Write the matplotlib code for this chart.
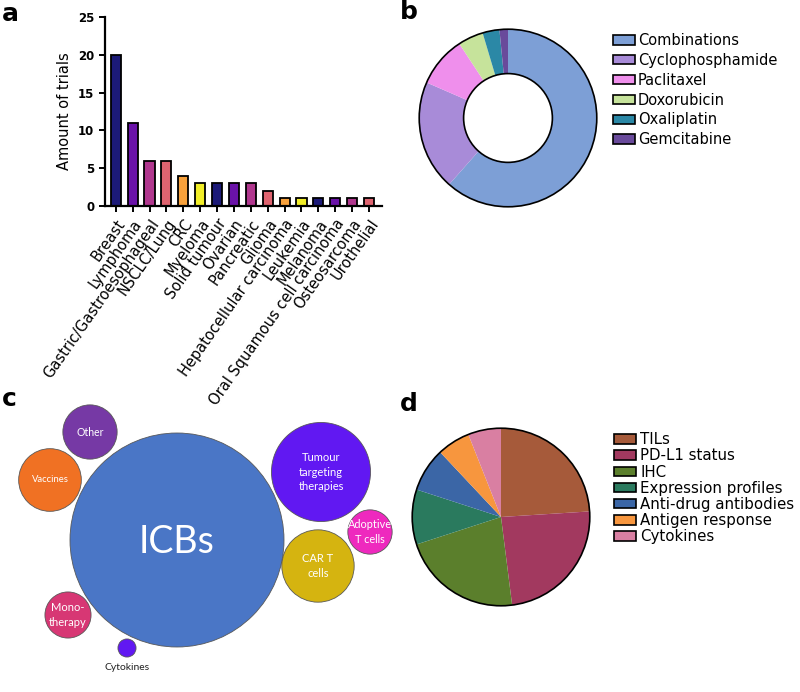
import numpy as np
import matplotlib
matplotlib.use('Agg')
from matplotlib import pyplot as plt
from matplotlib.patches import Circle, Patch

# panel a: trials per cancer type
cancers = ['Breast', 'Lymphoma', 'Gastric/Gastroesophageal', 'NSCLC/Lung', 'CRC', 'Myeloma',
           'Solid tumour', 'Ovarian', 'Pancreatic', 'Glioma', 'Hepatocellular carcinoma', 'Leukemia',
           'Melanoma', 'Oral Squamous cell carcinoma', 'Osteosarcoma', 'Urothelial']
trials = [20, 11, 6, 6, 4, 3, 3, 3, 3, 2, 1, 1, 1, 1, 1, 1]
bar_cycle = ['#1c1a78', '#6a12a8', '#b0378e', '#df6470', '#f7a13c', '#f2ee28']

# panel b: chemotherapy partners
chemo = ['Combinations', 'Cyclophosphamide', 'Paclitaxel', 'Doxorubicin', 'Oxaliplatin', 'Gemcitabine']
chemo_counts = [40, 13, 6, 3, 2, 1]
chemo_colors = ['#7d9fd6', '#a88bd8', '#ef8fec', '#c6e39b', '#2b88a6', '#694a9b']

# panel c: therapy classes (bubble areas)
therapies = ['ICBs', 'Tumour\ntargeting\ntherapies', 'CAR T\ncells', 'Vaccines', 'Other',
             'Mono-\ntherapy', 'Adoptive\nT cells', 'Cytokines']
therapy_counts = [140, 30, 16, 12, 9, 6.5, 6, 1]
therapy_colors = ['#4472c4', '#5c10f2', '#d4b208', '#f06c1c', '#7232a2', '#d6306f', '#ee22bc', '#5c10f2']
# bubble centres in pixel space of the panel (layout only)
bubble_xy = [(177, 540), (321, 472), (318, 566), (50, 480), (90, 432), (68, 615), (370, 532), (127, 648)]
label_size = [27, 8, 8, 6.8, 7.6, 8, 7.8, 7.5]

# panel d: biomarkers
markers = ['TILs', 'PD-L1 status', 'IHC', 'Expression profiles', 'Anti-drug antibodies',
           'Antigen response', 'Cytokines']
marker_share = [24, 24, 22, 10, 8, 6, 6]
marker_colors = ['#a65a3a', '#a2395f', '#5b7f2c', '#2a7a5e', '#3b66a6', '#f7963e', '#d97fa2']

fig = plt.figure(figsize=(8, 6.92), dpi=100)

# ---- a ----
ax = fig.add_axes([0.131, 0.7023, 0.3465, 0.2731])
x = np.arange(len(cancers))
cols = [bar_cycle[i % len(bar_cycle)] for i in range(len(cancers))]
ax.bar(x, trials, width=0.6, color=cols, edgecolor='black', linewidth=1.3)
ax.set_xlim(-0.65, 15.77)
ax.set_ylim(0, 25)
ax.set_yticks([0, 5, 10, 15, 20, 25])
ax.set_xticks(x)
ax.set_xticklabels(cancers, rotation=55, ha='right', rotation_mode='anchor', fontsize=10.5)
for lab in ax.get_yticklabels():
    lab.set_fontweight('bold')
    lab.set_fontsize(8.5)
ax.set_ylabel('Amount of trials', fontsize=10.5)
for s in ['top', 'right']:
    ax.spines[s].set_visible(False)
for s in ['left', 'bottom']:
    ax.spines[s].set_linewidth(1.6)
ax.tick_params(width=1.4, length=4)

# ---- b ----
axb = fig.add_axes([0.51625, 0.6922, 0.2375, 0.2746])
axb.pie(chemo_counts, colors=chemo_colors, startangle=90, counterclock=False,
        radius=1, wedgeprops=dict(width=0.5, edgecolor='none'))
axb.add_patch(Circle((0, 0), 1, fill=False, lw=1.2, ec='black'))
axb.add_patch(Circle((0, 0), 0.5, fill=False, lw=1.2, ec='black'))
axb.set_xlim(-1.07, 1.07)
axb.set_ylim(-1.07, 1.07)
axb.set_aspect('equal')
axb.axis('off')
fig.legend(handles=[Patch(fc=c, ec='black', lw=1.2) for c in chemo_colors], labels=chemo,
           loc='upper left', bbox_to_anchor=(0.75, 0.971), frameon=False, fontsize=10.5,
           handlelength=1.5, handleheight=0.6, labelspacing=0.33, handletextpad=0.2)

# ---- c ----
axc = fig.add_axes([0, 0, 0.5, 300 / 692])
axc.set_xlim(0, 400)
axc.set_ylim(692, 392)
axc.axis('off')
k = 107 / np.sqrt(therapy_counts[0])
for name, n, c, (cx, cy), fs in zip(therapies, therapy_counts, therapy_colors, bubble_xy, label_size):
    r = k * np.sqrt(n)
    axc.add_patch(Circle((cx, cy), r, fc=c, ec='#555555', lw=0.6, alpha=0.97))
    if name == 'ICBs':
        axc.text(cx, cy + 2, name, color='white', fontsize=fs, ha='center', va='center', family='Lato')
    elif name == 'Cytokines':
        axc.text(cx, cy + 19, name, color='#222222', fontsize=fs, ha='center', va='center', family='Lato')
    else:
        axc.text(cx, cy, name, color='white', fontsize=fs, ha='center', va='center',
                 family='Lato', linespacing=1.4)

# ---- d ----
axd = fig.add_axes([0.5075, 0.1156, 0.2375, 0.2746])
axd.pie(marker_share, colors=marker_colors, startangle=90, counterclock=False,
        radius=1, wedgeprops=dict(edgecolor='none'))
axd.add_patch(Circle((0, 0), 1, fill=False, lw=1.2, ec='black'))
axd.set_xlim(-1.07, 1.07)
axd.set_ylim(-1.07, 1.07)
axd.set_aspect('equal')
axd.axis('off')
fig.legend(handles=[Patch(fc=c, ec='black', lw=1.2) for c in marker_colors], labels=markers,
           loc='upper left', bbox_to_anchor=(0.75, 0.395), frameon=False, fontsize=10.8,
           handlelength=1.5, handleheight=0.6, labelspacing=0.08, handletextpad=0.3)

# panel letters
for letter, px, py in [('a', 2, 2), ('b', 400, 0), ('c', 2, 387), ('d', 400, 392)]:
    fig.text(px / 800, 1 - py / 692, letter, fontsize=18, fontweight='bold', ha='left', va='top')

fig.savefig('out.png', dpi=100)
